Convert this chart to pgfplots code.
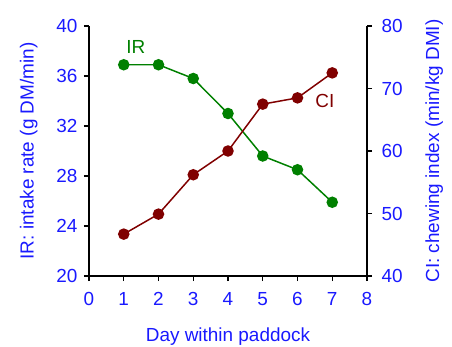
\documentclass[border=0pt]{standalone}
\usepackage{fontspec}
\setmainfont{Liberation Sans}
\usepackage{pgfplots}
\pgfplotsset{compat=1.18}
\definecolor{txtblue}{RGB}{25,25,255}
\definecolor{irgreen}{RGB}{0,128,0}
\definecolor{cired}{RGB}{128,0,0}
\begin{document}
\fontsize{19}{22}\selectfont
\begin{tikzpicture}
\pgfplotsset{
  common/.style={
    scale only axis, width=278bp, height=250bp,
    xmin=0, xmax=8,
    tick align=outside,
    major tick length=5bp,
    axis line style={-, black, line width=1.2pt},
    tick style={black, line width=1.2pt},
    /pgf/number format/assume math mode=true,
    tick label style={font=\fontsize{19}{22}\selectfont, text=txtblue},
    label style={font=\fontsize{19}{22}\selectfont, text=txtblue},
  }
}
\begin{axis}[common, name=ax,
  axis x line*=bottom, axis y line*=left,
  ymin=20, ymax=40, ytick={20,24,28,32,36,40},
  xtick={0,1,2,3,4,5,6,7,8},
  x tick label style={yshift=-5bp},
  xlabel={Day within paddock},
  xlabel style={yshift=-9bp},
  ylabel={IR: intake rate (g DM/min)},
  ylabel style={yshift=6bp},
]
\addplot[irgreen, line width=1.5pt, mark=*, mark size=5bp, mark options={fill=irgreen, draw=irgreen}]
coordinates {(1,36.9) (2,36.9) (3,35.8) (4,33.0) (5,29.6) (6,28.5) (7,25.9)};
\node[text=irgreen, font=\fontsize{19}{22}\selectfont] at (axis cs:1.35,38.3) {IR};
\node[text=cired, font=\fontsize{19}{22}\selectfont] at (axis cs:6.79,34.0) {CI};
\end{axis}
\begin{axis}[common,
  axis x line=none, axis y line*=right,
  ymin=40, ymax=80, ytick={40,50,60,70,80},
  y tick label style={xshift=3bp},
  ylabel={CI: chewing index (min/kg DMI)},
  ylabel style={yshift=-10bp},
]
\addplot[cired, line width=1.5pt, mark=*, mark size=5bp, mark options={fill=cired, draw=cired}]
coordinates {(1,46.7) (2,49.9) (3,56.2) (4,60.0) (5,67.5) (6,68.5) (7,72.5)};
\end{axis}
\pgfresetboundingbox
\path[use as bounding box] ([shift={(-89bp,-71bp)}]ax.south west) rectangle ([shift={(85bp,26bp)}]ax.north east);
\end{tikzpicture}
\end{document}
